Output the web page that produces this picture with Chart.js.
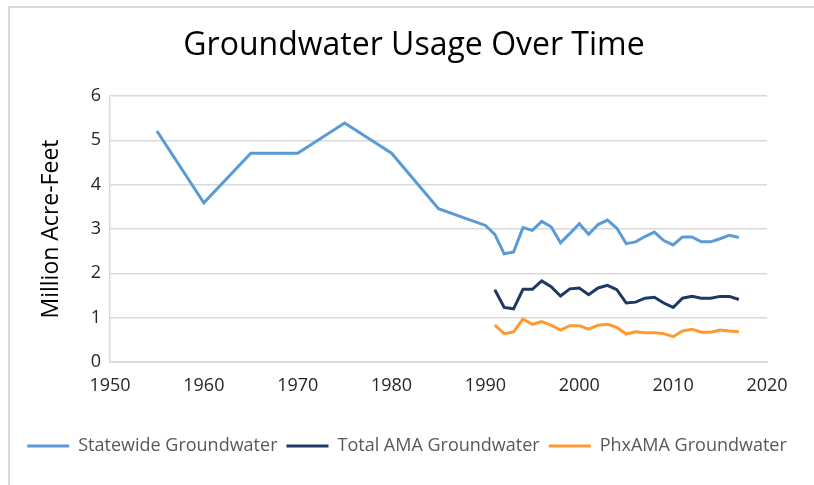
<!DOCTYPE html>
<html>
<head>
<meta charset="utf-8">
<script src="https://cdn.jsdelivr.net/npm/chart.js@4.4.0/dist/chart.umd.min.js"></script>
<style>
  html, body { margin: 0; padding: 0; background: #fff; overflow: hidden; }
  #wrap { position: relative; width: 814px; height: 485px; }
  #frame { position: absolute; left: 8px; top: 6px; width: 900px; height: 600px;
           border: 2px solid #d9d9d9; pointer-events: none; }
</style>
</head>
<body>
<div id="wrap">
  <canvas id="chart" width="814" height="485"></canvas>
  <div id="frame"></div>
</div>
<script>
// years with a statewide figure
const statewideYears = [1955, 1960, 1965, 1970, 1975, 1980, 1985, 1990, 1991, 1992, 1993, 1994,
  1995, 1996, 1997, 1998, 1999, 2000, 2001, 2002, 2003, 2004, 2005, 2006, 2007, 2008,
  2009, 2010, 2011, 2012, 2013, 2014, 2015, 2016, 2017];
const statewideValues = [5.21, 3.59, 4.71, 4.71, 5.39, 4.71, 3.46, 3.08, 2.88, 2.44, 2.48, 3.03,
  2.97, 3.17, 3.05, 2.69, 2.90, 3.12, 2.88, 3.10, 3.20, 3.02, 2.67, 2.71, 2.83, 2.93,
  2.74, 2.64, 2.82, 2.82, 2.71, 2.71, 2.78, 2.86, 2.81];

// AMA series start in 1991
const amaYears = [1991, 1992, 1993, 1994, 1995, 1996, 1997, 1998, 1999, 2000, 2001, 2002,
  2003, 2004, 2005, 2006, 2007, 2008, 2009, 2010, 2011, 2012, 2013, 2014, 2015, 2016, 2017];
const totalAmaValues = [1.63, 1.23, 1.20, 1.64, 1.64, 1.83, 1.70, 1.49, 1.65, 1.67, 1.52, 1.67,
  1.73, 1.63, 1.33, 1.35, 1.44, 1.46, 1.33, 1.23, 1.44, 1.48, 1.44, 1.44, 1.48, 1.48, 1.41];
const phxAmaValues = [0.83, 0.64, 0.68, 0.97, 0.85, 0.91, 0.83, 0.72, 0.82, 0.82, 0.74, 0.83,
  0.85, 0.78, 0.63, 0.68, 0.66, 0.66, 0.64, 0.57, 0.70, 0.74, 0.67, 0.67, 0.72, 0.70, 0.68];

const xTicks = [1950, 1960, 1970, 1980, 1990, 2000, 2010, 2020];
const yTicks = [0, 1, 2, 3, 4, 5, 6];

const FONT = "'Open Sans', sans-serif";
const TITLE = 'Groundwater Usage Over Time';

function toPoints(xs, ys) {
  return xs.map((x, i) => ({ x: x, y: ys[i] }));
}

function lineSet(label, pts, color) {
  return {
    label: label,
    data: pts,
    borderColor: color,
    backgroundColor: color,
    borderWidth: 3,
    pointRadius: 0,
    tension: 0
  };
}

// title is centred on the whole frame, not just the plot, so draw it by hand
const titlePlugin = {
  id: 'frameTitle',
  afterDraw(chart) {
    const ctx = chart.ctx;
    ctx.save();
    ctx.font = '32px ' + FONT;
    ctx.fillStyle = '#000';
    ctx.textAlign = 'center';
    ctx.textBaseline = 'middle';
    ctx.fillText(TITLE, 414, 46);
    ctx.restore();
  }
};

new Chart(document.getElementById('chart'), {
  type: 'line',
  data: {
    datasets: [
      lineSet('Statewide Groundwater', toPoints(statewideYears, statewideValues), '#5b9bd5'),
      lineSet('Total AMA Groundwater', toPoints(amaYears, totalAmaValues), '#1f3864'),
      lineSet('PhxAMA Groundwater', toPoints(amaYears, phxAmaValues), '#ff9933')
    ]
  },
  plugins: [titlePlugin],
  options: {
    responsive: false,
    animation: false,
    layout: { padding: { top: 96, right: 0, bottom: 20, left: 0 } },
    plugins: {
      title: { display: false },
      legend: {
        position: 'bottom',
        labels: {
          color: '#595959',
          font: { family: FONT, size: 18 },
          usePointStyle: true,
          pointStyle: 'line',
          pointStyleWidth: 42,
          padding: 9
        }
      },
      tooltip: { enabled: false }
    },
    scales: {
      x: {
        type: 'linear',
        min: 1950,
        max: 2020,
        afterBuildTicks: s => { s.ticks = xTicks.map(v => ({ value: v })); },
        afterFit: s => { s.height = 66; },
        grid: { display: false, drawTicks: false },
        border: { color: '#d9d9d9', width: 1.5 },
        ticks: {
          color: '#262626',
          font: { family: FONT, size: 18 },
          padding: 13,
          maxRotation: 0,
          callback: v => String(v)
        }
      },
      y: {
        min: 0,
        max: 6,
        afterBuildTicks: s => { s.ticks = yTicks.map(v => ({ value: v })); },
        afterFit: s => { s.width = 110; },
        grid: { color: '#d9d9d9', lineWidth: 1.5, drawTicks: false },
        border: { color: '#d9d9d9', width: 1.5 },
        ticks: { color: '#262626', font: { family: FONT, size: 18 }, padding: 9 },
        title: {
          display: true,
          text: 'Million Acre-Feet',
          color: '#000',
          font: { family: FONT, size: 23 },
          padding: { top: 38, bottom: 0 }
        }
      },
      // empty right-hand gutter so the legend can use the full width
      gutter: {
        position: 'right',
        afterFit: s => { s.width = 47; },
        grid: { display: false, drawTicks: false },
        border: { display: false },
        ticks: { display: false }
      }
    }
  }
});
</script>
</body>
</html>
